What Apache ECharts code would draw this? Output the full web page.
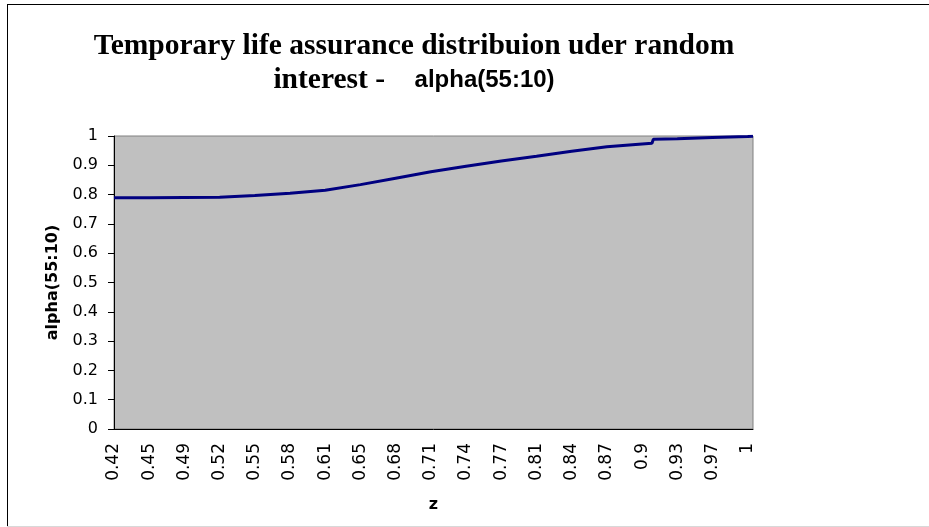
<!DOCTYPE html>
<html>
<head>
<meta charset="utf-8">
<script src="https://cdn.jsdelivr.net/npm/echarts@6/dist/echarts.min.js"></script>
<style>
  html, body { margin: 0; padding: 0; background: #fff; }
  #chart { width: 929px; height: 527px; }
</style>
</head>
<body>
<div id="chart"></div>
<script>
// z labels printed under the axis (one every 6 rows of the sheet)
const zLabels = ['0.42', '0.45', '0.49', '0.52', '0.55', '0.58', '0.61', '0.65', '0.68', '0.71',
  '0.74', '0.77', '0.81', '0.84', '0.87', '0.9', '0.93', '0.97', '1'];

// curve: position counted in label steps, and alpha(55:10)
const zPos = [0, 1, 2, 3, 4, 5, 6, 7, 8, 9, 10, 11, 12, 13, 14, 15, 15.28, 15.32, 16, 17, 18, 18.15];
const alphaVals = [0.789, 0.789, 0.790, 0.791, 0.797, 0.805, 0.815, 0.834, 0.856, 0.878, 0.897,
  0.915, 0.931, 0.948, 0.963, 0.973, 0.975, 0.989, 0.991, 0.995, 0.998, 0.999];

const zMax = 18.15;

const sans = '"DejaVu Sans", Arial, sans-serif';
const serif = '"Liberation Serif", "Times New Roman", serif';

const chart = echarts.init(document.getElementById('chart'));

chart.setOption({
  animation: false,
  backgroundColor: '#fff',
  title: {
    text: 'Temporary life assurance distribuion uder random\ninterest -    {a|alpha(55:10)}',
    left: 409,
    top: 24,
    textAlign: 'center',
    textStyle: {
      fontFamily: serif,
      fontWeight: 'bold',
      fontSize: 29.5,
      lineHeight: 34,
      color: '#000',
      rich: {
        a: {
          fontFamily: '"Liberation Sans", Arial, sans-serif',
          fontWeight: 'bold',
          fontSize: 24,
          lineHeight: 34,
          color: '#000'
        }
      }
    }
  },
  graphic: [
    { type: 'line', shape: { x1: 7.5, y1: 4, x2: 7.5, y2: 526 }, style: { stroke: '#000', lineWidth: 1 } },
    { type: 'line', shape: { x1: 7, y1: 4.5, x2: 929, y2: 4.5 }, style: { stroke: '#000', lineWidth: 1 } },
    { type: 'line', shape: { x1: 7, y1: 526.5, x2: 929, y2: 526.5 }, style: { stroke: '#d8d8d8', lineWidth: 1 } }
  ],
  grid: {
    left: 114,
    right: 176,
    top: 136,
    bottom: 98,
    show: true,
    backgroundColor: '#c0c0c0',
    borderColor: '#808080',
    borderWidth: 1
  },
  xAxis: {
    type: 'value',
    min: 0,
    max: zMax,
    interval: 1,
    name: 'z',
    nameLocation: 'middle',
    nameGap: 68,
    nameTextStyle: { fontFamily: sans, fontWeight: 'bold', fontSize: 16, color: '#000' },
    axisLine: { show: true, lineStyle: { color: '#000', width: 1 } },
    axisTick: { show: false },
    splitLine: { show: false },
    axisLabel: {
      rotate: 90,
      margin: 14,
      fontFamily: sans,
      fontSize: 17,
      color: '#000',
      formatter: function (v) {
        return Number.isInteger(v) && zLabels[v] !== undefined ? zLabels[v] : '';
      }
    }
  },
  yAxis: {
    type: 'value',
    min: 0,
    max: 1,
    interval: 0.1,
    name: 'alpha(55:10)',
    nameLocation: 'middle',
    nameGap: 53,
    nameTextStyle: { fontFamily: sans, fontWeight: 'bold', fontSize: 16, color: '#000' },
    axisLine: { show: true, lineStyle: { color: '#000', width: 1 } },
    axisTick: { show: true, inside: false, length: 6, lineStyle: { color: '#000' } },
    splitLine: { show: false },
    axisLabel: {
      margin: 16,
      fontFamily: sans,
      fontSize: 16,
      color: '#000',
      formatter: function (v) { return String(+v.toFixed(1)); }
    }
  },
  series: [{
    type: 'line',
    data: zPos.map(function (x, i) { return [x, alphaVals[i]]; }),
    showSymbol: false,
    lineStyle: { color: '#000080', width: 3 }
  }]
});
</script>
</body>
</html>
